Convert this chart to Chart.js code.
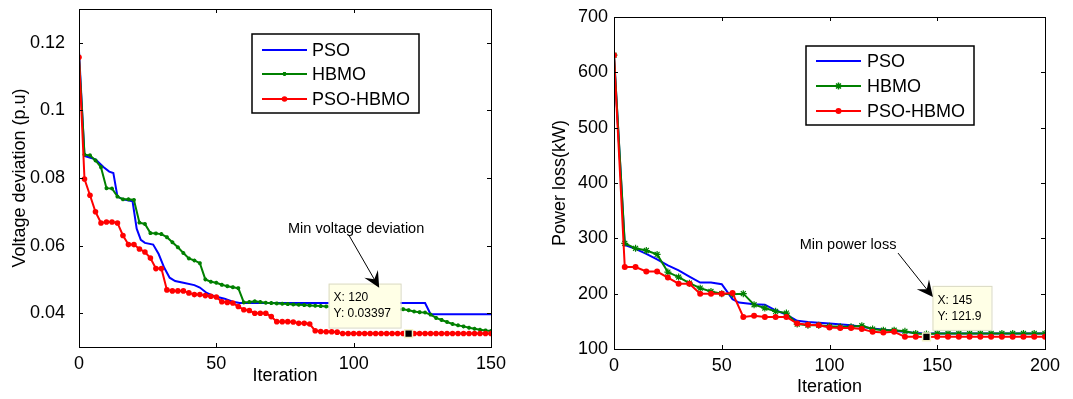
<!DOCTYPE html>
<html>
<head>
<meta charset="utf-8">
<script src="https://cdn.jsdelivr.net/npm/chart.js@4.4.0/dist/chart.umd.min.js"></script>
<style>
  html, body { margin: 0; padding: 0; background: #fff; }
  #wrap { position: relative; width: 1073px; height: 399px; }
  .box { position: absolute; top: 0; height: 399px; }
</style>
</head>
<body>
<div id="wrap">
  <div class="box" style="left:0;width:510px"><canvas id="voltage-chart"></canvas></div>
  <div class="box" style="left:540px;width:533px"><canvas id="loss-chart"></canvas></div>
</div>
<script>
// ---- left chart: voltage deviation ----
const vdIter = [0,2,4,6,8,10,12,14,16,18,20,22,24,26,28,30,32,34,36,38,
  40,42,44,46,48,50,52,54,56,58,60,62,64,66,68,70,72,74,76,78,
  80,82,84,86,88,90,92,94,96,98,100,102,104,106,108,110,112,114,116,118,
  120,122,124,126,128,130,132,134,136,138,140,142,144,146,148,150];

const vdHybrid = [0.1157,0.0797,0.0749,0.0700,0.0667,0.0670,0.0670,0.0667,0.0630,0.0603,
  0.0603,0.0590,0.0581,0.0563,0.0532,0.0532,0.0469,0.0466,0.0466,0.0466,
  0.0460,0.0455,0.0455,0.0452,0.0450,0.0448,0.0434,0.0432,0.0430,0.0420,
  0.0410,0.0408,0.0400,0.0400,0.0400,0.0390,0.0375,0.0375,0.0375,0.0374,
  0.0370,0.0370,0.0368,0.0348,0.0346,0.0345,0.0345,0.0344,0.0340,0.0340,
  0.0340,0.0340,0.0340,0.0340,0.0340,0.0340,0.0340,0.0340,0.0340,0.0340,
  0.0340,0.0340,0.0340,0.0340,0.0340,0.0340,0.0340,0.0340,0.0340,0.0340,
  0.0340,0.0340,0.0340,0.0340,0.0340,0.0340];

const vdHbmo = [0.1160,0.0869,0.0867,0.0852,0.0832,0.0770,0.0769,0.0745,0.0737,0.0737,
  0.0735,0.0668,0.0664,0.0637,0.0636,0.0634,0.0625,0.0610,0.0595,0.0578,
  0.0562,0.0556,0.0548,0.0500,0.0493,0.0490,0.0484,0.0480,0.0477,0.0474,
  0.0432,0.0433,0.0435,0.0433,0.0431,0.0430,0.0429,0.0428,0.0427,0.0426,
  0.0425,0.0424,0.0423,0.0422,0.0421,0.0420,0.0419,0.0418,0.0417,0.0416,
  0.0415,0.0415,0.0414,0.0413,0.0413,0.0412,0.0412,0.0411,0.0411,0.0412,
  0.0409,0.0405,0.0403,0.0402,0.0396,0.0386,0.0380,0.0374,0.0368,0.0364,
  0.0361,0.0357,0.0354,0.0351,0.0349,0.0347];

const vdPsoIter = [0,2,6,9,11,12.5,14,16,19.5,21,22.5,24,27,29,31,33,35,38,42,44,46.5,49,53,56,58.5,126,128,150];
const vdPso = [0.1175,0.0865,0.0855,0.0832,0.0819,0.0815,0.0745,0.0737,0.0731,0.0650,0.0617,0.0608,0.0603,0.0575,0.0535,0.0505,0.0495,0.0490,0.0483,0.0476,0.0460,0.0451,0.0443,0.0434,0.0430,0.0430,0.0397,0.0397];

const vdXTicks = [0, 50, 100, 150];
const vdYTicks = [0.04, 0.06, 0.08, 0.1, 0.12];

// ---- right chart: power loss ----
const plIter = [0,5,10,15,20,25,30,35,40,45,50,55,60,65,70,75,80,85,90,95,
  100,105,110,115,120,125,130,135,140,145,150,155,160,165,170,175,180,185,190,195,200];

const plHybrid = [631,248,248,240,240,229,218,218,200,200,
  200,201,158,160,158,158,158,146,144,143,
  139,138,138,136,131,130,131,122,122,121.9,122,122,122,122,122,122,122,122,122,122,122];

const plHbmo = [631,291,282,278,271,239,230,219,210,204,
  200,199,200,180,174,168,165,145,143,143,
  141,140,140,142,136,134,134,132,128,127,128,128,128,128,128,128,128,128,128,128,128];

const plPsoIter = [0,5,10,15,20,25,30,35,40,45,50,55,58,65,70,75,80,85,90,100,110,120,130,140,145,200];
const plPso = [630,288,281,272,262,251,242,231,220,220,217,190,184,181,180,170,162,151,149,146,143,137,133,129,128,128];

const plXTicks = [0, 50, 100, 150, 200];
const plYTicks = [100, 200, 300, 400, 500, 600, 700];

const seriesNames = ['PSO', 'HBMO', 'PSO-HBMO'];
const fontFamily = "'Liberation Sans', Arial, Helvetica, sans-serif";

function pairs(xs, ys) {
  return xs.map((x, i) => ({ x: x, y: ys[i] }));
}

function drawMarker(ctx, style, x, y, r, color) {
  ctx.save();
  ctx.fillStyle = color;
  ctx.strokeStyle = color;
  ctx.lineWidth = 1.5;
  if (style === 'circle') {
    ctx.beginPath();
    ctx.arc(x, y, r, 0, Math.PI * 2);
    ctx.fill();
  } else if (style === 'star') {
    ctx.beginPath();
    ctx.moveTo(x - r, y); ctx.lineTo(x + r, y);
    ctx.moveTo(x, y - r); ctx.lineTo(x, y + r);
    ctx.moveTo(x - r * 0.7, y - r * 0.7); ctx.lineTo(x + r * 0.7, y + r * 0.7);
    ctx.moveTo(x - r * 0.7, y + r * 0.7); ctx.lineTo(x + r * 0.7, y - r * 0.7);
    ctx.stroke();
  }
  ctx.restore();
}

function drawArrow(ctx, x0, y0, x1, y1) {
  const ang = Math.atan2(y1 - y0, x1 - x0);
  const len = 18, spread = 0.45;
  ctx.save();
  ctx.strokeStyle = '#000';
  ctx.fillStyle = '#000';
  ctx.lineWidth = 1;
  ctx.beginPath();
  ctx.moveTo(x0, y0);
  ctx.lineTo(x1 - Math.cos(ang) * 9, y1 - Math.sin(ang) * 9);
  ctx.stroke();
  ctx.beginPath();
  ctx.moveTo(x1, y1);
  ctx.lineTo(x1 - len * Math.cos(ang - spread), y1 - len * Math.sin(ang - spread));
  ctx.lineTo(x1 - len * 0.55 * Math.cos(ang), y1 - len * 0.55 * Math.sin(ang));
  ctx.lineTo(x1 - len * Math.cos(ang + spread), y1 - len * Math.sin(ang + spread));
  ctx.closePath();
  ctx.fill();
  ctx.restore();
}

// matlab look: boxed axes, inward ticks, data tip, arrow note, boxed legend
const matlabPlugin = {
  id: 'matlab',
  afterDatasetsDraw(chart, args, opts) {
    const { ctx, chartArea: a, scales: { x, y } } = chart;

    // data tip box
    const tip = opts.tip;
    const mx = x.getPixelForValue(tip.x), my = y.getPixelForValue(tip.y);
    ctx.save();
    ctx.fillStyle = '#ffffe6';
    ctx.strokeStyle = '#d9d9c4';
    ctx.lineWidth = 1;
    ctx.fillRect(mx + tip.box[0], my + tip.box[1], tip.box[2], tip.box[3]);
    ctx.strokeRect(mx + tip.box[0] + 0.5, my + tip.box[1] + 0.5, tip.box[2], tip.box[3]);
    ctx.fillStyle = '#000';
    ctx.font = '12px ' + fontFamily;
    ctx.textBaseline = 'middle';
    ctx.textAlign = 'left';
    tip.lines.forEach((t, i) => ctx.fillText(t, mx + tip.box[0] + 5, my + tip.rows[i]));
    ctx.restore();

    // note with arrow
    const note = opts.note;
    ctx.save();
    ctx.fillStyle = '#000';
    ctx.font = note.size + 'px ' + fontFamily;
    ctx.textAlign = 'center';
    ctx.textBaseline = 'middle';
    ctx.fillText(note.text, x.getPixelForValue(note.at[0]), y.getPixelForValue(note.at[1]));
    ctx.restore();
    drawArrow(ctx, x.getPixelForValue(note.from[0]), y.getPixelForValue(note.from[1]),
      x.getPixelForValue(note.to[0]), y.getPixelForValue(note.to[1]));

    // box and ticks
    ctx.save();
    ctx.strokeStyle = '#000';
    ctx.lineWidth = 1;
    ctx.strokeRect(a.left + 0.5, a.top + 0.5, a.right - a.left, a.bottom - a.top);
    ctx.beginPath();
    opts.xTicks.forEach(v => {
      const px = Math.round(x.getPixelForValue(v)) + 0.5;
      ctx.moveTo(px, a.bottom); ctx.lineTo(px, a.bottom - 4);
      ctx.moveTo(px, a.top); ctx.lineTo(px, a.top + 4);
    });
    opts.yTicks.forEach(v => {
      const py = Math.round(y.getPixelForValue(v)) + 0.5;
      ctx.moveTo(a.left, py); ctx.lineTo(a.left + 4, py);
      ctx.moveTo(a.right, py); ctx.lineTo(a.right - 4, py);
    });
    ctx.stroke();
    ctx.restore();

    // legend box
    const lg = opts.legend;
    const lx = a.left + lg.dx, ly = a.top + lg.dy;
    ctx.save();
    ctx.fillStyle = '#fff';
    ctx.fillRect(lx, ly, lg.w, lg.h);
    ctx.strokeStyle = '#000';
    ctx.lineWidth = 1.5;
    ctx.strokeRect(lx, ly, lg.w, lg.h);
    ctx.font = lg.size + 'px ' + fontFamily;
    ctx.textBaseline = 'middle';
    ctx.textAlign = 'left';
    chart.data.datasets.filter(d => seriesNames.includes(d.label)).forEach((d, i) => {
      const ry = ly + lg.rows[i];
      ctx.strokeStyle = d.borderColor;
      ctx.lineWidth = 2;
      ctx.beginPath();
      ctx.moveTo(lx + 10, ry); ctx.lineTo(lx + 55, ry);
      ctx.stroke();
      if (d.pointRadius > 0) drawMarker(ctx, d.pointStyle, lx + 32.5, ry, d.pointRadius, d.borderColor);
      ctx.fillStyle = '#000';
      ctx.fillText(d.label, lx + lg.textX, ry + 1);
    });
    ctx.restore();
  }
};

function makeChart(canvas, cfg) {
  return new Chart(canvas.getContext('2d'), {
    type: 'line',
    data: {
      datasets: [
        { label: 'PSO', data: pairs(cfg.psoX, cfg.psoY), borderColor: '#0000ff', backgroundColor: '#0000ff',
          borderWidth: 2, pointRadius: 0, tension: 0, order: 3 },
        { label: 'HBMO', data: pairs(cfg.iter, cfg.hbmo), borderColor: '#008000', backgroundColor: '#008000',
          borderWidth: 2, pointRadius: cfg.hbmoR, pointStyle: 'star', pointBorderWidth: 1.2, tension: 0, order: 2 },
        { label: 'PSO-HBMO', data: pairs(cfg.iter, cfg.hybrid), borderColor: '#ff0000', backgroundColor: '#ff0000',
          borderWidth: 2, pointRadius: cfg.hybridR, pointStyle: 'circle', pointBorderWidth: 0, tension: 0, order: 1 },
        { label: 'tip', data: [{ x: cfg.tip.x, y: cfg.tip.y }], showLine: false, pointStyle: 'rect',
          pointRadius: 5.5, backgroundColor: '#000', borderColor: '#f2f2c8', pointBorderWidth: 1.5, order: 0 }
      ]
    },
    options: {
      responsive: true,
      maintainAspectRatio: false,
      animation: false,
      layout: { padding: cfg.padding },
      plugins: {
        legend: { display: false },
        tooltip: { enabled: false },
        matlab: {
          xTicks: cfg.xTicks, yTicks: cfg.yTicks,
          legend: cfg.legend, note: cfg.note, tip: cfg.tip
        }
      },
      scales: {
        x: {
          type: 'linear', min: cfg.xTicks[0], max: cfg.xTicks[cfg.xTicks.length - 1],
          afterBuildTicks: s => { s.ticks = cfg.xTicks.map(v => ({ value: v })); },
          afterFit: s => { s.height = cfg.xAxisH; s.paddingLeft = 0; s.paddingRight = 0; },
          grid: { display: false, drawTicks: false },
          border: { display: false },
          ticks: { color: '#000', font: { family: fontFamily, size: 18 }, padding: 6, maxRotation: 0, autoSkip: false },
          title: { display: true, text: 'Iteration', color: '#000', font: { family: fontFamily, size: 18 },
            padding: { top: 0, bottom: cfg.xTitlePad } }
        },
        y: {
          type: 'linear', min: cfg.yMin, max: cfg.yMax,
          afterBuildTicks: s => { s.ticks = cfg.yTicks.map(v => ({ value: v })); },
          afterFit: s => { s.width = cfg.yAxisW; s.paddingTop = 0; s.paddingBottom = 0; },
          grid: { display: false, drawTicks: false },
          border: { display: false },
          ticks: { color: '#000', font: { family: fontFamily, size: 18 }, padding: cfg.yTickPad,
            autoSkip: false, callback: v => String(v) },
          title: { display: true, text: cfg.yTitle, color: '#000', font: { family: fontFamily, size: 18 },
            padding: { top: 9, bottom: 0 } }
        }
      }
    },
    plugins: [matlabPlugin]
  });
}

makeChart(document.querySelector('#voltage-chart'), {
  iter: vdIter, hybrid: vdHybrid, hbmo: vdHbmo, psoX: vdPsoIter, psoY: vdPso,
  hbmoR: 2, hybridR: 2.8,
  xTicks: vdXTicks, yTicks: vdYTicks, yMin: 0.03, yMax: 0.13,
  yTitle: 'Voltage deviation (p.u)',
  padding: { left: 0, right: 19, top: 9, bottom: 0 },
  xAxisH: 52, yAxisW: 79, xTitlePad: 12, yTickPad: 14,
  legend: { dx: 173, dy: 25, w: 167, h: 79, rows: [16, 40, 65], textX: 60, size: 18 },
  note: { text: 'Min voltage deviation', size: 14.5, at: [100.9, 0.0650], from: [98.4, 0.0629], to: [109.3, 0.0475] },
  tip: { x: 120, y: 0.03397, lines: ['X: 120', 'Y: 0.03397'], box: [-80, -50, 72, 44], rows: [-36, -20] }
});

makeChart(document.querySelector('#loss-chart'), {
  iter: plIter, hybrid: plHybrid, hbmo: plHbmo, psoX: plPsoIter, psoY: plPso,
  hbmoR: 3.5, hybridR: 3,
  xTicks: plXTicks, yTicks: plYTicks, yMin: 100, yMax: 700,
  yTitle: 'Power loss(kW)',
  padding: { left: 0, right: 28, top: 17, bottom: 0 },
  xAxisH: 50, yAxisW: 74, xTitlePad: 1, yTickPad: 6,
  legend: { dx: 192, dy: 29, w: 168, h: 79, rows: [15, 40, 65], textX: 61, size: 18 },
  note: { text: 'Min power loss', size: 14.5, at: [108.6, 287.8], from: [131.8, 273.4], to: [148, 194] },
  tip: { x: 145, y: 121.9, lines: ['X: 145', 'Y: 121.9'], box: [6, -51, 59, 44], rows: [-36, -20] }
});
</script>
</body>
</html>
